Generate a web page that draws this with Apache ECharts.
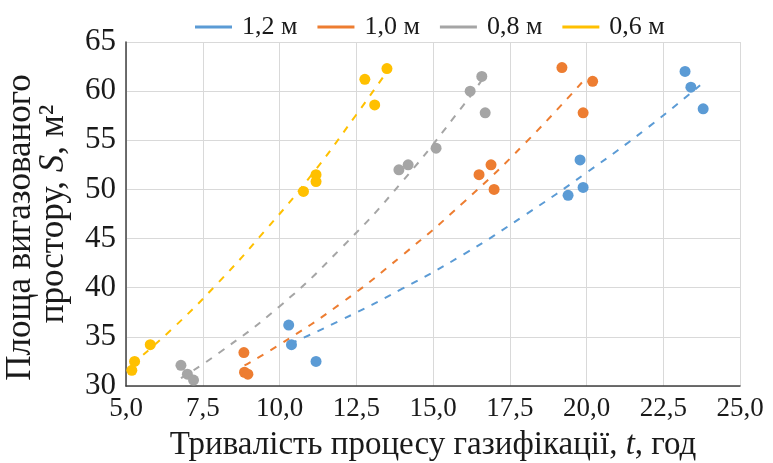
<!DOCTYPE html>
<html>
<head>
<meta charset="utf-8">
<script src="https://cdn.jsdelivr.net/npm/echarts@6/dist/echarts.min.js"></script>
<style>
html,body{margin:0;padding:0;background:#fff;}
#chart{width:773px;height:463px;}
</style>
</head>
<body>
<div id="chart"></div>
<script>
// ---- Data ----
const seriesNames = ['1,2 м', '1,0 м', '0,8 м', '0,6 м'];
const seriesColors = ['#5B9BD5', '#ED7D31', '#A5A5A5', '#FFC000'];

// measured points [t, S]
const pts12 = [[10.30,36.2],[10.39,34.2],[11.19,32.5],[19.40,49.4],[19.79,53.0],[19.89,50.2],[23.21,62.0],[23.40,60.4],[23.80,58.2]];
const pts10 = [[8.84,33.4],[8.86,31.4],[8.97,31.2],[16.50,51.5],[16.89,52.5],[16.99,50.0],[19.20,62.4],[20.20,61.0],[19.89,57.8]];
const pts08 = [[6.79,32.1],[7.00,31.2],[7.20,30.6],[13.89,52.0],[14.19,52.5],[15.10,54.2],[16.21,60.0],[16.59,61.5],[16.70,57.8]];
const pts06 = [[5.19,31.6],[5.28,32.5],[5.79,34.2],[10.78,49.8],[11.19,51.5],[11.19,50.8],[12.78,61.2],[13.50,62.3],[13.10,58.6]];

// trend lines [t, S]
const trend12 = [[10.35,34.3],[12.0,36.7],[14.0,39.9],[16.0,43.4],[18.0,47.4],[20.0,51.7],[22.0,56.3],[23.7,60.6]];
const trend10 = [[8.86,32.1],[10.0,34.2],[12.0,38.4],[14.0,43.3],[16.0,48.7],[18.0,54.7],[20.0,61.4]];
const trend08 = [[6.79,30.8],[8.0,33.3],[10.0,38.1],[12.0,44.0],[14.0,50.8],[16.0,58.6],[16.63,61.3]];
const trend06 = [[5.19,32.2],[6.5,35.8],[8.0,40.5],[9.5,45.7],[11.0,51.3],[12.5,57.6],[13.48,61.9]];

const xTickLabels = ['5,0','7,5','10,0','12,5','15,0','17,5','20,0','22,5','25,0'];
const yTickLabels = ['30','35','40','45','50','55','60','65'];

const allPts = [pts12, pts10, pts08, pts06];
const allTrend = [trend12, trend10, trend08, trend06];

const FONT = '"Liberation Serif", "Times New Roman", serif';
const TXT = '#1a1a1a';

const series = [];
for (let i = 0; i < 4; i++) {
  series.push({
    name: seriesNames[i],
    type: 'line',
    data: allTrend[i],
    smooth: true,
    showSymbol: false,
    symbol: 'none',
    lineStyle: { color: seriesColors[i], width: 2, type: [7, 8] },
    itemStyle: { color: seriesColors[i] },
    z: 2
  });
}
for (let i = 0; i < 4; i++) {
  series.push({
    name: seriesNames[i],
    type: 'scatter',
    data: allPts[i],
    symbolSize: 11,
    itemStyle: { color: seriesColors[i], opacity: 1 },
    z: 3
  });
}

const chart = echarts.init(document.getElementById('chart'));
chart.setOption({
  animation: false,
  backgroundColor: '#fff',
  legend: {
    data: seriesNames,
    top: 9,
    left: 190,
    icon: 'rect',
    itemWidth: 37,
    itemHeight: 3,
    itemGap: 20,
    textStyle: { fontFamily: FONT, fontSize: 26, color: TXT, padding: [0, 0, 0, 5] }
  },
  grid: { left: 126, right: 33, top: 42, bottom: 77, containLabel: false, outerBoundsMode: 'none' },
  xAxis: {
    type: 'value',
    min: 5, max: 25, interval: 2.5,
    name: 'Тривалість процесу газифікації, {i|t}, год',
    nameLocation: 'middle',
    nameGap: 43,
    nameTextStyle: {
      fontFamily: FONT, fontSize: 33, color: TXT,
      rich: { i: { fontFamily: FONT, fontSize: 33, fontStyle: 'italic', color: TXT } }
    },
    axisLine: { show: true, onZero: false, lineStyle: { color: '#404040', width: 1.5 } },
    axisTick: { show: false },
    splitLine: { show: true, lineStyle: { color: '#D9D9D9', width: 1 } },
    axisLabel: {
      fontFamily: FONT, fontSize: 27, color: TXT, margin: 9,
      formatter: (v) => xTickLabels[Math.round((v - 5) / 2.5)]
    }
  },
  yAxis: {
    type: 'value',
    min: 30, max: 65, interval: 5,
    name: '{b|Площа вигазованого}\n{a|простору, }{i|S}{a|, м²}',
    nameLocation: 'middle',
    nameRotate: 90,
    nameGap: 56,
    nameTextStyle: {
      fontFamily: FONT, fontSize: 35, color: TXT, lineHeight: 33,
      rich: {
        a: { fontFamily: FONT, fontSize: 35, color: TXT, lineHeight: 33 },
        b: { fontFamily: FONT, fontSize: 35, color: TXT, lineHeight: 33, padding: [0, 27, 0, 0] },
        i: { fontFamily: FONT, fontSize: 35, fontStyle: 'italic', color: TXT, lineHeight: 33 }
      }
    },
    axisLine: { show: true, onZero: false, lineStyle: { color: '#404040', width: 1.5 } },
    axisTick: { show: false },
    splitLine: { show: true, lineStyle: { color: '#D9D9D9', width: 1 } },
    axisLabel: {
      fontFamily: FONT, fontSize: 31, color: TXT, margin: 10,
      formatter: (v) => yTickLabels[Math.round((v - 30) / 5)]
    }
  },
  series: series
});
</script>
</body>
</html>
